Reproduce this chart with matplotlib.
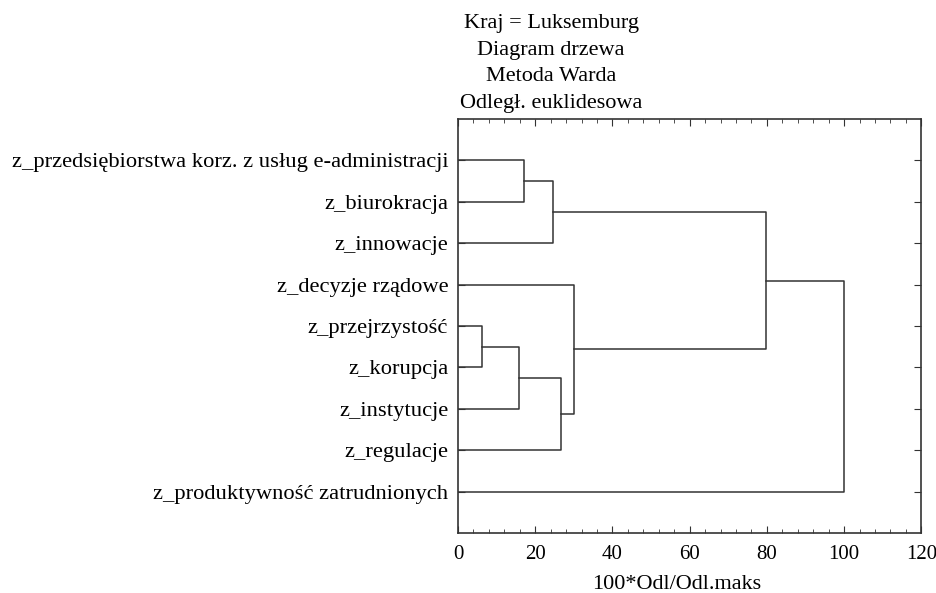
import numpy as np
import matplotlib
matplotlib.use('Agg')
import matplotlib.pyplot as plt
from matplotlib.ticker import MultipleLocator

plt.rcParams['font.family'] = ['Liberation Serif', 'DejaVu Serif']

# leaves, top to bottom
labels = ['z_przedsiębiorstwa korz. z usług e-administracji', 'z_biurokracja',
          'z_innowacje', 'z_decyzje rządowe', 'z_przejrzystość', 'z_korupcja',
          'z_instytucje', 'z_regulacje', 'z_produktywność zatrudnionych']
# merges: (node a, node b, height); leaves 0..8, new nodes 9, 10, ...
merge_a = [0, 9, 4, 11, 12, 3, 10, 15]
merge_b = [1, 2, 5, 6, 7, 13, 14, 8]
heights = [17.1, 24.6, 6.3, 15.8, 26.7, 30.1, 79.8, 100.0]
title_lines = ['Kraj = Luksemburg', 'Diagram drzewa', 'Metoda Warda', 'Odległ. euklidesowa']

fig = plt.figure(figsize=(9.37, 5.93), dpi=100)
ax = fig.add_axes([0.4888, 0.1012, 0.4945, 0.6981])

pos = {i: (0.0, i + 1.0) for i in range(len(labels))}
for k, (a, b, h) in enumerate(zip(merge_a, merge_b, heights)):
    xa, ya = pos[a]
    xb, yb = pos[b]
    ax.plot([xa, h, h, xb], [ya, ya, yb, yb], color='#333333', lw=1.1)
    pos[len(labels) + k] = (h, (ya + yb) / 2)

ax.set_xlim(0, 120)
ax.set_ylim(len(labels) + 1, 0)
ax.xaxis.set_major_locator(MultipleLocator(20))
ax.xaxis.set_minor_locator(MultipleLocator(4))
ax.set_yticks(np.arange(1, len(labels) + 1))
ax.set_yticklabels(labels, fontsize=16.2)
ax.tick_params(which='both', direction='in', top=True, right=True,
               color='#333333', pad=7)
ax.tick_params(axis='x', labelsize=15, pad=9)
ax.tick_params(which='major', length=5)
ax.tick_params(which='minor', length=3)
for s in ax.spines.values():
    s.set_linewidth(1.2)
    s.set_color('#333333')
ax.set_xlabel('100*Odl/Odl.maks', fontsize=16)
ax.xaxis.set_label_coords(0.473, -0.102)

for i, t in enumerate(title_lines):
    fig.text(551 / 937, 1 - (28 + 26.7 * i) / 593, t, ha='center', va='baseline', fontsize=16)

fig.savefig('out.png', dpi=100)
